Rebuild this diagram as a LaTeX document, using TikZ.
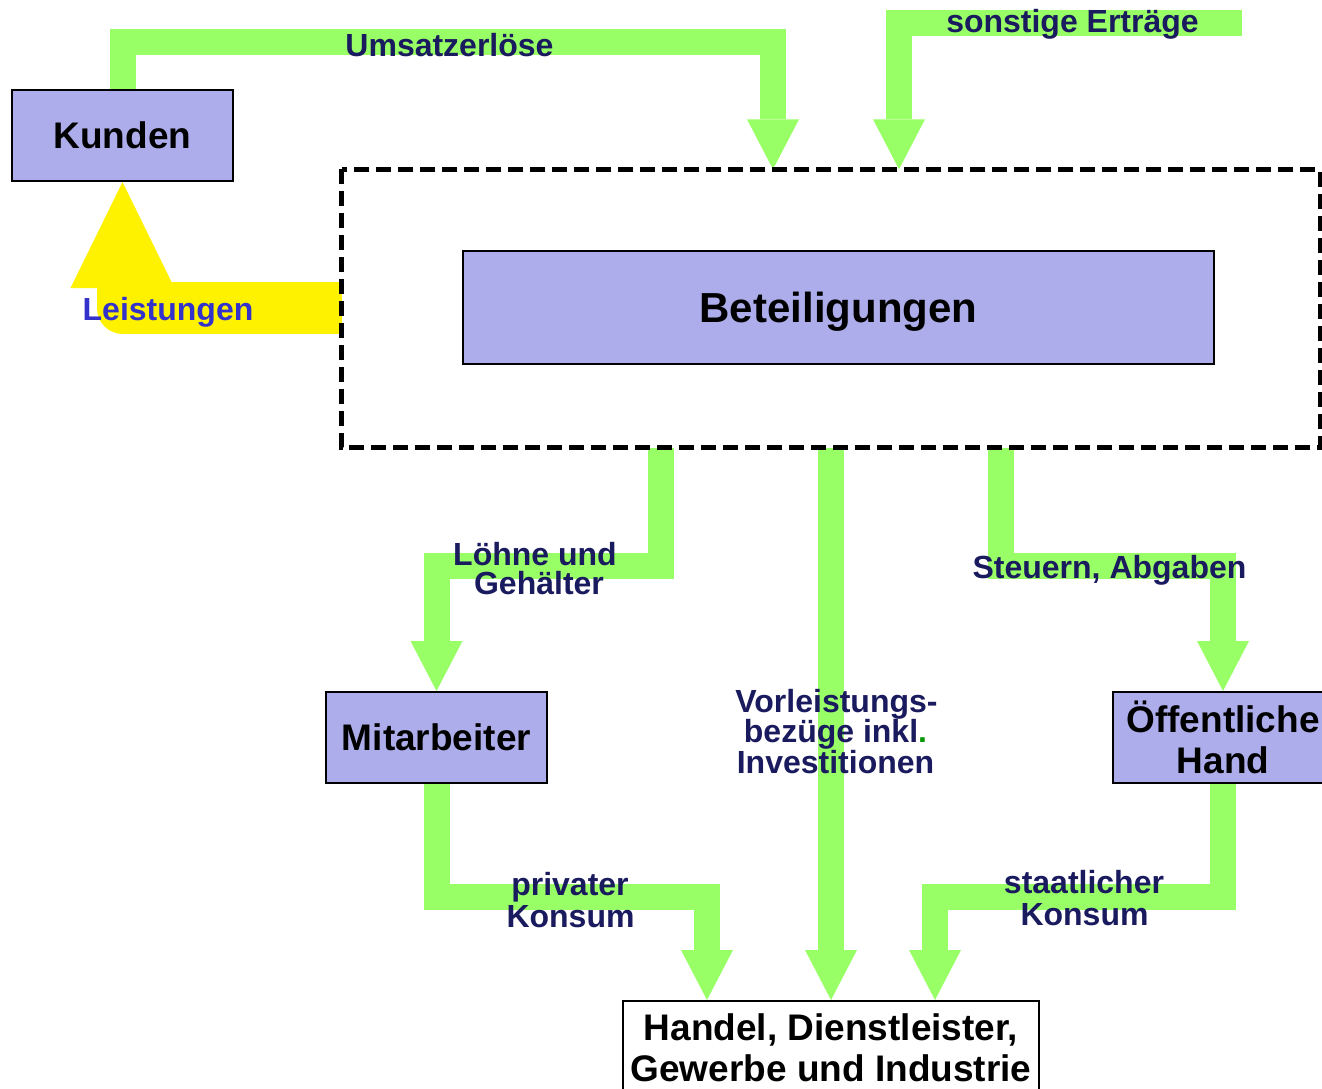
\documentclass[tikz,border=0pt]{standalone}
\usepackage{fontspec}
\setmainfont{Liberation Sans}
\usetikzlibrary{arrows.meta,calc}
\definecolor{flowgreen}{RGB}{153,255,102}
\definecolor{boxfill}{RGB}{173,173,235}
\definecolor{navy}{RGB}{26,26,94}
\definecolor{leistblue}{RGB}{51,51,204}
\definecolor{dotgreen}{RGB}{0,150,0}
\begin{document}
\begin{tikzpicture}[x=1pt,y=-1pt,
  box/.style={draw=black, line width=2pt, fill=boxfill, inner sep=0pt,
    font=\fontsize{37}{41}\selectfont\bfseries, align=center},
  framebox/.style={draw=black, line width=5pt, dash pattern=on 15pt off 7pt},
  flow/.style={draw=flowgreen, line width=26pt, line join=miter, line cap=butt,
    -{Triangle[width=52pt,length=50pt,line width=0pt,fill=flowgreen]}},
  yflow/.style={draw=yellow, line width=52pt, line join=round, line cap=butt,
    -{Triangle[width=104pt,length=106pt,line width=0pt,fill=yellow]}},
  lbl/.style={text=navy, font=\fontsize{32}{30}\selectfont\bfseries, anchor=base, inner sep=0pt}]
\useasboundingbox (0,0) rectangle (1322,1089);

% invisible frame node (outline drawn later, on top of the flows)
\node[minimum width=978pt, minimum height=278pt, inner sep=0pt] (frame) at (831,308.5) {};

% boxes
\node[box, minimum width=221pt, minimum height=91pt] (kunden) at (122.5,135.5) {Kunden};
\node[box, minimum width=751pt, minimum height=113pt, text depth=0pt, font=\fontsize{42}{46}\selectfont\bfseries] (beteil) at (838.5,307.5) {Beteiligungen};
\node[box, minimum width=221pt, minimum height=91pt] (mitarb) at (436.5,737.5) {Mitarbeiter};
\node[box, minimum width=220pt, minimum height=91pt] (oeff) at (1223,737.5) {Öffentliche\\Hand};
\node[box, fill=white, minimum width=416pt, minimum height=94pt] (handel) at (831,1048) {Handel, Dienstleister,\\Gewerbe und Industrie};

% coordinates for routing
\coordinate (ums) at (773,42.5);
\coordinate (son) at (1242,23.5);
\coordinate (sonk) at (899,23.5);
\coordinate (lohx) at (660.5,0);
\coordinate (lohk) at (436.5,565.5);
\coordinate (stx) at (1000.5,0);
\coordinate (stk) at (1223,565.5);
\coordinate (prk) at (707,897);
\coordinate (sak) at (935,897);
\coordinate (leik) at (122.5,308);

% yellow flow
\draw[yflow] (frame.west |- leik) -- (leik) -- (kunden.south);

% green flows
\draw[flow] (kunden.north) |- (ums) -- (ums |- frame.north);
\draw[flow] (son) -- (sonk) -- (sonk |- frame.north);
\draw[flow] (lohx |- frame.south) |- (lohk) -- (mitarb.north);
\draw[flow] (handel.north |- frame.south) -- (handel.north);
\draw[flow] (stx |- frame.south) |- (stk) -- (oeff.north);
\draw[flow] (mitarb.south) |- (prk) -- (prk |- handel.north);
\draw[flow] (oeff.south) |- (sak) -- (sak |- handel.north);

% dashed frame outline
\draw[framebox] (frame.north west) rectangle (frame.south east);

% labels
\node[lbl] (l_ums) at (449.5,56.5) {Umsatzerlöse};
\node[lbl] (l_son) at (1072.5,33) {sonstige Erträge};
\node[lbl, text=leistblue] (l_lei) at (168,320) {Leistungen};
\node[lbl] (l_loh1) at (535,565) {Löhne und};
\node[lbl] (l_loh2) at (539,594) {Gehälter};
\node[lbl] (l_st) at (1109.5,578) {Steuern, Abgaben};
\node[lbl] (l_vor1) at (836.5,712) {Vorleistungs-};
\node[lbl] (l_vor2) at (835.5,742) {bezüge inkl\textcolor{dotgreen}{.}};
\node[lbl] (l_vor3) at (835.5,773) {Investitionen};
\node[lbl] (l_pr1) at (570,895) {privater};
\node[lbl] (l_pr2) at (570.5,927) {Konsum};
\node[lbl] (l_sa1) at (1084,893) {staatlicher};
\node[lbl] (l_sa2) at (1084.5,925) {Konsum};
\end{tikzpicture}
\end{document}
